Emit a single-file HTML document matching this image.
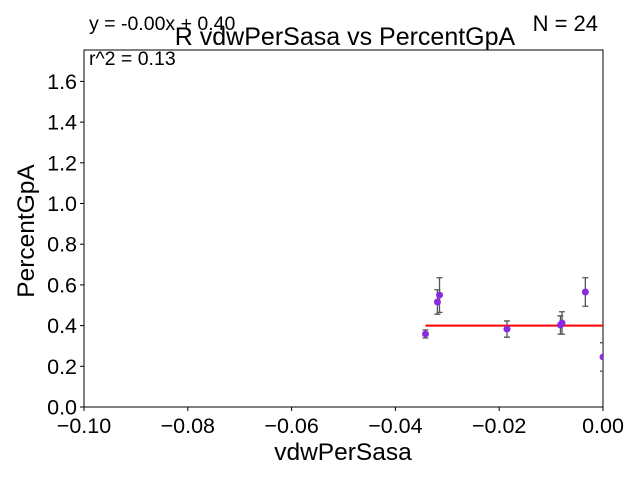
<!DOCTYPE html>
<html><head><meta charset="utf-8"><style>body{margin:0;background:#fff}svg text{font-family:"Liberation Sans",sans-serif}</style></head>
<body>
<svg id="c" width="640" height="480">
<rect x="84" y="50" width="519" height="357" fill="#fff" stroke="#000" stroke-width="1"/>
<g id="marks"></g>
<g id="ticks"></g>
<text x="345" y="45" font-size="25" text-anchor="middle">R vdwPerSasa vs PercentGpA</text>
<text x="89" y="30" font-size="19.5">y = -0.00x + 0.40</text>
<text x="89" y="65" font-size="19.5">r^2 = 0.13</text>
<text x="598" y="31" font-size="22" text-anchor="end">N = 24</text>
<text x="343" y="460" font-size="24.5" text-anchor="middle">vdwPerSasa</text>
<text x="34" y="231" font-size="24.5" text-anchor="middle" transform="rotate(-90 34 231)">PercentGpA</text>
</svg>
<script>
const xs=[-0.0342,-0.0319,-0.0315,-0.0185,-0.0082,-0.0079,-0.0034,0.0];
const ys=[0.359,0.516,0.55,0.383,0.403,0.413,0.565,0.246];
const errs=[0.02,0.06,0.085,0.04,0.045,0.055,0.07,0.07];
const fitSlope=0.0, fitIntercept=0.40;
const xTicks=[-0.10,-0.08,-0.06,-0.04,-0.02,0.00];
const xTickLabels=["\u22120.10","\u22120.08","\u22120.06","\u22120.04","\u22120.02","0.00"];
const yTicks=[0,0.2,0.4,0.6,0.8,1.0,1.2,1.4,1.6];
const yTickLabels=["0.0","0.2","0.4","0.6","0.8","1.0","1.2","1.4","1.6"];
const NS="http://www.w3.org/2000/svg";
const X=v=>84+(v+0.1)/0.1*519, Y=v=>407-v/0.2*40.7;
function mk(t,a,p){const e=document.createElementNS(NS,t);for(const k in a)e.setAttribute(k,a[k]);p.appendChild(e);return e;}
const m=document.getElementById('marks'), tk=document.getElementById('ticks');
const clip=mk('clipPath',{id:'cp'},m);mk('rect',{x:84,y:50,width:519,height:357},clip);
const g=mk('g',{'clip-path':'url(#cp)'},m);
xs.forEach((x,i)=>{const cx=X(x),t=Y(ys[i]+errs[i]),b=Y(ys[i]-errs[i]);
const e=mk('path',{d:`M${cx},${t}V${b}M${cx-3},${t}h6M${cx-3},${b}h6`,stroke:'#555','stroke-width':1.3,fill:'none'},g);

});
const minx=Math.min(...xs),maxx=Math.max(...xs);
const fl=mk('line',{x1:X(minx),y1:Y(fitSlope*minx+fitIntercept),x2:X(maxx),y2:Y(fitSlope*maxx+fitIntercept),stroke:'#ff0000','stroke-width':2},g);


xs.forEach((x,i)=>{const c=mk('circle',{cx:X(x),cy:Y(ys[i]),r:3.5,fill:'#8a2be2'},g);

});
xTicks.forEach((v,i)=>{mk('line',{x1:X(v),x2:X(v),y1:407,y2:411,stroke:'#000'},tk);
const t=mk('text',{x:X(v),y:433,'font-size':21.5,'text-anchor':'middle'},tk);t.textContent=xTickLabels[i];

});
yTicks.forEach((v,i)=>{mk('line',{x1:80,x2:84,y1:Y(v),y2:Y(v),stroke:'#000'},tk);
const t=mk('text',{x:77,y:Y(v)+7.5,'font-size':21.5,'text-anchor':'end'},tk);t.textContent=yTickLabels[i];

});
</script>
</body></html>
